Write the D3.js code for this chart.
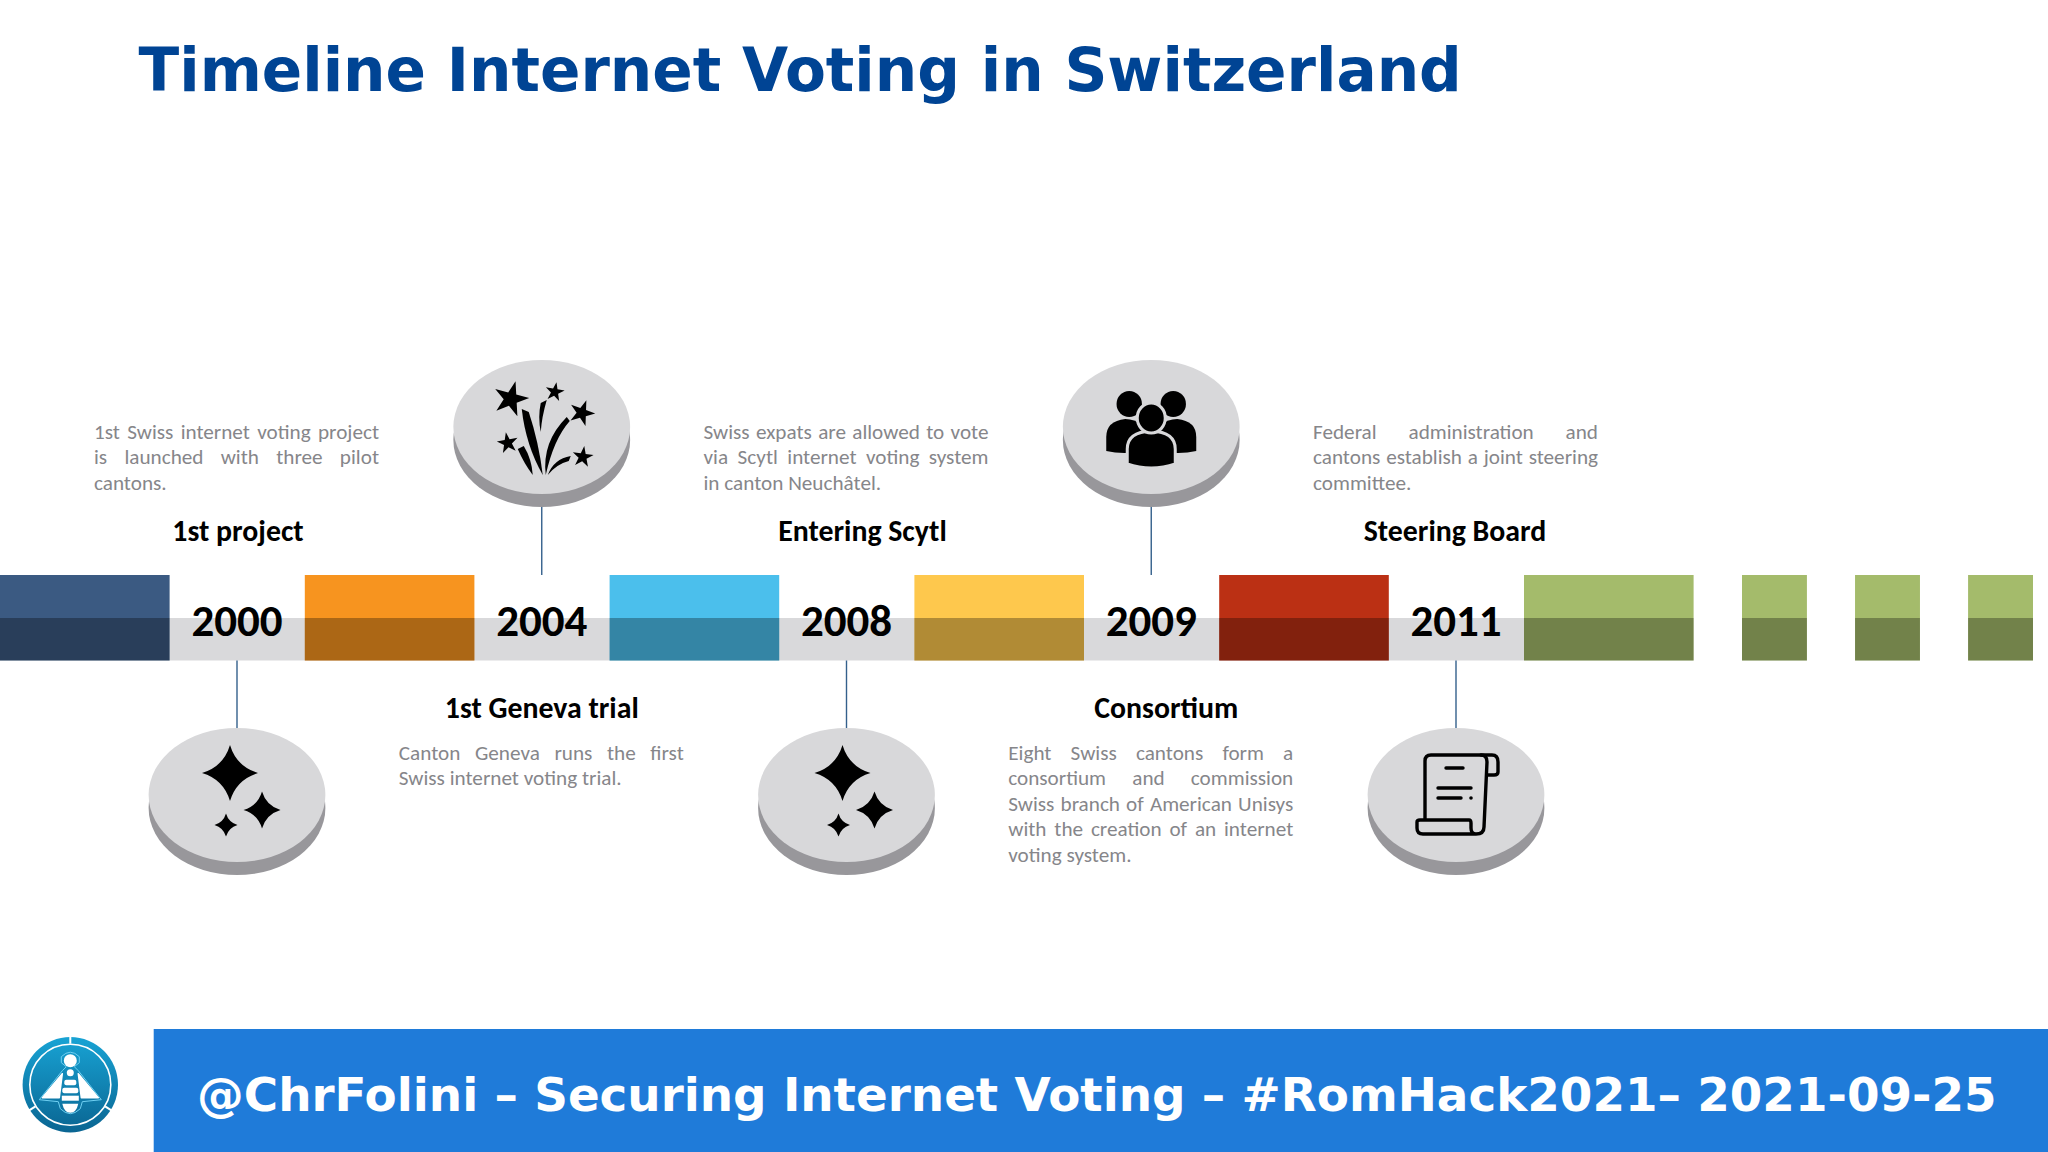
<!DOCTYPE html>
<html>
<head>
<meta charset="utf-8">
<title>Timeline Internet Voting in Switzerland</title>
<script src="https://cdn.jsdelivr.net/npm/d3@7"></script>
<style>
  html, body { margin: 0; padding: 0; background: #fff; }
  svg { display: block; }
  text { font-family: Carlito, Lato, sans-serif; }
  .heading { font-family: "DejaVu Sans", sans-serif; font-weight: bold; }
</style>
</head>
<body>
<script>
var pageTitle = "Timeline Internet Voting in Switzerland";
var footerText = "@ChrFolini – Securing Internet Voting – #RomHack2021– 2021-09-25";

var years = ["2000", "2004", "2008", "2009", "2011"];
var titles = ["1st project", "1st Geneva trial", "Entering Scytl", "Consortium", "Steering Board"];
var iconNames = ["sparkle", "fireworks", "sparkle", "people", "scroll"];
var descriptions = [
  ["1st Swiss internet voting project", "is launched with three pilot", "cantons."],
  ["Canton Geneva runs the first", "Swiss internet voting trial."],
  ["Swiss expats are allowed to vote", "via Scytl internet voting system", "in canton Neuchâtel."],
  ["Eight Swiss cantons form a", "consortium and commission", "Swiss branch of American Unisys", "with the creation of an internet", "voting system."],
  ["Federal administration and", "cantons establish a joint steering", "committee."]
];
var segments = ["navy", "orange", "cyan", "yellow", "red", "green"];
var tailSegments = ["t1", "t2", "t3"];

var segmentColor = d3.scaleOrdinal()
  .domain(segments)
  .range(["#3b5a82", "#f7941f", "#4bbfec", "#fec84d", "#bb3014", "#a4bb6b"]);

var width = 2048, height = 1152;
var barTop = 575, barMid = 618, barBottom = 660.5;
var segWidth = 169.6, descWidth = 285, lineHeight = 25.4;
var discRx = 88.4, discRy = 67, discDrop = 13;
var upperCy = 427, lowerCy = 795;
var circleFill = "#d8d8da", circleEdge = "#98979b";
var ink = "#000";

var svg = d3.select("body").append("svg")
    .attr("width", width)
    .attr("height", height)
    .attr("viewBox", "0 0 " + width + " " + height);

// year positions and coloured blocks
var x = d3.scalePoint().domain(years).range([237, 1456]);
var segX = d3.scalePoint().domain(segments).range([0, 1524]);
var tailX = d3.scaleBand().domain(tailSegments).range([1742, 2033]).paddingInner(48.2 / 113.2);

svg.append("text").attr("class", "heading")
    .attr("x", 138.5).attr("y", 91)
    .attr("font-size", 59.65).attr("fill", "#004494")
    .text(pageTitle);

// grey strip behind the year labels
svg.append("rect")
    .attr("x", segX("navy") + segWidth).attr("y", barMid)
    .attr("width", segX("green") - segX("navy") - segWidth)
    .attr("height", barBottom - barMid)
    .attr("fill", "#d9d9db");

var blocks = svg.append("g").selectAll("g").data(segments).join("g")
    .attr("transform", function(d) { return "translate(" + segX(d) + ",0)"; });
blocks.append("rect")
    .attr("y", barTop).attr("width", segWidth).attr("height", barBottom - barTop)
    .attr("fill", function(d) { return segmentColor(d); });
blocks.append("rect")
    .attr("y", barMid).attr("width", segWidth).attr("height", barBottom - barMid)
    .attr("fill", "#000").attr("fill-opacity", 0.3);

var tails = svg.append("g").selectAll("g").data(tailSegments).join("g")
    .attr("transform", function(d) { return "translate(" + tailX(d) + ",0)"; });
tails.append("rect")
    .attr("y", barTop).attr("width", tailX.bandwidth()).attr("height", barBottom - barTop)
    .attr("fill", segmentColor("green"));
tails.append("rect")
    .attr("y", barMid).attr("width", tailX.bandwidth()).attr("height", barBottom - barMid)
    .attr("fill", "#000").attr("fill-opacity", 0.3);

// icons are drawn around (0,0), the centre of the disc
function sparklePath(cx, cy, r) {
  var k = r * 0.23;
  return "M" + cx + "," + (cy - r) +
    "Q" + (cx + k) + "," + (cy - k) + " " + (cx + r) + "," + cy +
    "Q" + (cx + k) + "," + (cy + k) + " " + cx + "," + (cy + r) +
    "Q" + (cx - k) + "," + (cy + k) + " " + (cx - r) + "," + cy +
    "Q" + (cx - k) + "," + (cy - k) + " " + cx + "," + (cy - r) + "Z";
}

function drawSparkle(g) {
  [[-7, -22, 28], [25, 15, 18.5], [-11, 30, 11.5]].forEach(function(s) {
    g.append("path").attr("d", sparklePath(s[0], s[1], s[2])).attr("fill", ink);
  });
}

function drawFireworks(g) {
  [[-31, -28, 18.5, 15], [13, -35, 10, 10], [40, -14, 13.5, 20], [-34, 16, 11, -10], [41, 30, 11, 8]].forEach(function(s) {
    g.append("path")
        .attr("d", d3.symbol().type(d3.symbolStar).size(s[2] * s[2] / 0.8908)())
        .attr("transform", "translate(" + s[0] + "," + s[1] + ") rotate(" + s[3] + ")")
        .attr("fill", ink);
  });
  [
    "M5,-27 Q0,-10 -1,5 Q-4,-10 -1,-24Z",
    "M-20,-18 L-13,-15 Q-3,15 1,48 Q-16,18 -20,-18Z",
    "M25,-10 L28,-6 Q12,12 4,48 Q0,15 25,-10Z",
    "M-24,22 L-18,19 Q-10,32 -9,48 Q-18,36 -24,22Z",
    "M29,29 L27,34 Q15,37 6,48 Q12,32 29,29Z"
  ].forEach(function(p) {
    g.append("path").attr("d", p).attr("fill", ink);
  });
}

function drawPeople(g) {
  g.append("path").attr("d", "M-45,24 L-45,10 Q-45,-6 -26,-8 Q-6,-7 -6,10 L-6,24Q-28,28 -45,24Z").attr("fill", ink);
  g.append("path").attr("d", "M45,24 L45,10 Q45,-6 26,-8 Q6,-7 6,10 L6,24Q28,28 45,24Z").attr("fill", ink);
  g.append("ellipse").attr("cx", -22).attr("cy", -23).attr("rx", 12.7).attr("ry", 13).attr("fill", ink);
  g.append("ellipse").attr("cx", 22).attr("cy", -23).attr("rx", 12.7).attr("ry", 13).attr("fill", ink);
  g.append("path").attr("d", "M-24,37 L-24,22 Q-24,5 0,4 Q24,5 24,22 L24,37 Q0,45 -24,37Z")
      .attr("fill", ink).attr("stroke", circleFill).attr("stroke-width", 3);
  g.append("ellipse").attr("cx", 0).attr("cy", -9).attr("rx", 14).attr("ry", 15)
      .attr("fill", ink).attr("stroke", circleFill).attr("stroke-width", 3);
}

function drawScroll(g) {
  var line = function(d) {
    g.append("path").attr("d", d).attr("fill", "none").attr("stroke", ink)
        .attr("stroke-width", 3.4).attr("stroke-linecap", "round").attr("stroke-linejoin", "round");
  };
  line("M-31,24 L-31,-34 Q-31,-40 -25,-40 L36,-40 Q42,-40 42,-33 L42,-23 Q42,-20 38,-20 L31,-20");
  line("M25,-40 Q31,-40 31,-33 L28,32 Q28,39 20,39 L-33,39 Q-39,39 -39,33 L-39,27 Q-39,25 -36,25 L13,25 Q15,25 15,28 L15,33 Q15,39 20,39");
  line("M-10,-27 L7,-27");
  line("M-18,-7 L15,-7");
  line("M-18,3 L5,3");
  g.append("circle").attr("cx", 15).attr("cy", 3).attr("r", 1.8).attr("fill", ink);
}

var iconDrawers = { sparkle: drawSparkle, fireworks: drawFireworks, people: drawPeople, scroll: drawScroll };

// one group per event: stem, disc, icon, labels, description
var titleNudge = [1, 0, 16, 15, -1];
var iconNudge = [0, 0, 3, 0, 0];

years.forEach(function(year, i) {
  var above = i % 2 === 1;
  var cx = x(year);
  var cy = above ? upperCy : lowerCy;

  svg.append("line")
      .attr("x1", cx).attr("x2", cx)
      .attr("y1", above ? cy + discRy + discDrop - 1 : barBottom)
      .attr("y2", above ? barTop : cy - discRy + 1)
      .attr("stroke", "#34608c").attr("stroke-width", 1.4);

  svg.append("ellipse").attr("cx", cx).attr("cy", cy + discDrop)
      .attr("rx", discRx).attr("ry", discRy).attr("fill", circleEdge);
  svg.append("ellipse").attr("cx", cx).attr("cy", cy)
      .attr("rx", discRx).attr("ry", discRy).attr("fill", circleFill);

  var icon = svg.append("g").attr("transform", "translate(" + (cx + iconNudge[i]) + "," + cy + ")");
  iconDrawers[iconNames[i]](icon);

  svg.append("text")
      .attr("x", cx).attr("y", 636)
      .attr("text-anchor", "middle")
      .attr("font-size", 45).attr("font-weight", 700).attr("fill", ink)
      .text(year);

  svg.append("text")
      .attr("x", cx + titleNudge[i]).attr("y", above ? 718 : 540.5)
      .attr("text-anchor", "middle")
      .attr("font-size", 29.8).attr("font-weight", 700).attr("fill", ink)
      .text(titles[i]);

  // block text: every line but the last is stretched to the full width
  var left = cx - descWidth / 2 - 0.5;
  var firstBaseline = above ? 760 : 439;
  descriptions[i].forEach(function(str, j) {
    var t = svg.append("text")
        .attr("x", left).attr("y", firstBaseline + j * lineHeight)
        .attr("font-size", 21.2).attr("fill", "#86868a")
        .text(str);
    if (j < descriptions[i].length - 1) {
      var gaps = str.split(" ").length - 1;
      var extra = (descWidth - t.node().getComputedTextLength()) / gaps;
      t.attr("word-spacing", extra);
    }
  });
});

// footer
svg.append("rect")
    .attr("x", 153.7).attr("y", 1029)
    .attr("width", width - 153.7).attr("height", height - 1029)
    .attr("fill", "#1f7bd9");
svg.append("text").attr("class", "heading")
    .attr("x", 197).attr("y", 1111)
    .attr("font-size", 46.8).attr("fill", "#fff")
    .text(footerText);

// logo
var defs = svg.append("defs");
var grad = defs.append("linearGradient").attr("id", "logoFill")
    .attr("x1", 0).attr("x2", 0).attr("y1", 0).attr("y2", 1);
grad.append("stop").attr("offset", 0).attr("stop-color", "#18a3d4");
grad.append("stop").attr("offset", 1).attr("stop-color", "#0a6592");

var logo = svg.append("g").attr("transform", "translate(70.3,1084.7)");
logo.append("circle").attr("r", 47.7).attr("fill", "url(#logoFill)");
logo.append("circle").attr("r", 40.5).attr("fill", "none").attr("stroke", "#fff").attr("stroke-width", 1.6);
[0, 122, 238].forEach(function(a) {
  logo.append("line")
      .attr("x1", 0).attr("x2", 0).attr("y1", -41).attr("y2", -49)
      .attr("transform", "rotate(" + a + ")")
      .attr("stroke", "#fff").attr("stroke-width", 2);
});
var bee = logo.append("g").attr("fill", "#fff");
bee.append("path").attr("d", "M-28,13 L-8,-11 L-11,13 Z").attr("stroke", "#fff").attr("stroke-width", 1.5).attr("stroke-linejoin", "round");
bee.append("path").attr("d", "M28,13 L8,-11 L11,13 Z").attr("stroke", "#fff").attr("stroke-width", 1.5).attr("stroke-linejoin", "round");
bee.append("path").attr("d", "M-31,15 L-8,-14 L-4,-18 L-9,-22 L-9,-28 Q0,-37 9,-28 L9,-22 L4,-18 L8,-14 L31,15 L12,17 L10,24 Q0,34 -10,24 L-12,17 Z")
    .attr("fill", "none").attr("stroke", "#6fd0f2").attr("stroke-width", 1);
bee.append("circle").attr("cy", -24).attr("r", 6.5);
bee.append("circle").attr("cy", -12).attr("r", 3.5);
bee.append("rect").attr("x", -6).attr("y", -5).attr("width", 12).attr("height", 5.5).attr("rx", 2);
bee.append("rect").attr("x", -8).attr("y", 3).attr("width", 16).attr("height", 5.5).attr("rx", 2);
bee.append("rect").attr("x", -8.5).attr("y", 11).attr("width", 17).attr("height", 5);
bee.append("path").attr("d", "M-8,19 L8,19 Q6,28 0,28 Q-6,28 -8,19Z");
</script>
</body>
</html>
